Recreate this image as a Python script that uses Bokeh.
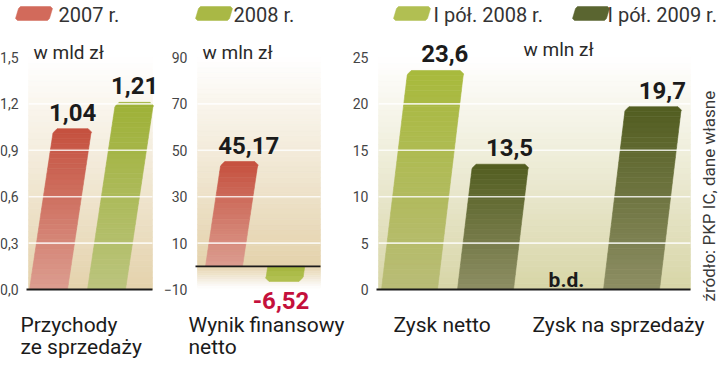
import math
from bokeh.plotting import figure
from bokeh.models import (Range1d, FixedTicker, CustomJSTickFormatter, LabelSet,
                          ColumnDataSource, LinearAxis)
from bokeh.core.properties import value
from bokeh.embed import file_html
from bokeh.resources import INLINE

# ---------------- data ----------------
legend_labels = ["2007 r.", "2008 r.", "I pół. 2008 r.", "I pół. 2009 r."]
units = ["w mld zł", "w mln zł", "w mln zł"]
cat_revenue = ["Przychody", "ze sprzedaży"]
cat_result = ["Wynik finansowy", "netto"]
cat_profit = ["Zysk netto", "Zysk na sprzedaży"]
revenue = [1.04, 1.21]          # 2007, 2008 (mld zł)
net_result = [45.17, -6.52]     # 2007, 2008 (mln zł)
profit_h1_2008 = [23.6, None]   # Zysk netto, Zysk na sprzedaży (b.d.)
profit_h1_2009 = [13.5, 19.7]
ticks_revenue = [0.0, 0.3, 0.6, 0.9, 1.2, 1.5]
ticks_result = [-10, 10, 30, 50, 70, 90]
ticks_profit = [0, 5, 10, 15, 20, 25]
missing_text = "b.d."
source_text = "źródło: PKP IC, dane własne"

# ---------------- layout / style ----------------
W, H = 720, 381
BASE_Y = 92
REGION_H = 232
FONT = "Roboto"
INK = "#1b1b1b"
RED = ("#c5503e", "#dc9d90")
GREEN = ("#9eb136", "#bbc47e")
GREEN_NEG = ("#b3c253", "#a5b63f")
LIGHT = ("#a8ba3c", "#b9bc77")
DARK = ("#525d20", "#8d8e64")
SW = ["#d26a5b", "#a9b845", "#b1bf52", "#5a6530"]
TAN, OLIVE_TAN = "#e4d2ac", "#d8d5a7"


def rgb(h):
    return tuple(int(h[i:i + 2], 16) for i in (1, 3, 5))


def lerp(c1, c2, t):
    a, b = rgb(c1), rgb(c2)
    return "#%02x%02x%02x" % tuple(int(round(a[i] + (b[i] - a[i]) * t)) for i in range(3))


def panel_range(lo, hi):
    ppu = REGION_H / (hi - lo)
    start = lo - BASE_Y / ppu
    return Range1d(start, start + H / ppu), ppu


p = figure(width=W, height=H, x_range=Range1d(0, W), y_range=Range1d(0, H),
           x_axis_location=None, y_axis_location=None, min_border=0,
           outline_line_color=None, background_fill_color="white", border_fill_color="white",
           output_backend="svg", toolbar_location=None)
p.grid.visible = False

r1, ppu1 = panel_range(0, 1.5)
r2, ppu2 = panel_range(-10, 90)
r3, ppu3 = panel_range(0, 25)
p.extra_y_ranges = {"rev": r1, "res": r2, "prof": r3}

PANELS = {"rev": (28, 152), "res": (197, 320), "prof": (378, 690)}


def add_axis(name, ticks, comma):
    ax = LinearAxis(y_range_name=name, fixed_location=PANELS[name][0],
                    ticker=FixedTicker(ticks=ticks))
    if comma:
        ax.formatter = CustomJSTickFormatter(code="return tick.toFixed(1).replace('.', ',');")
    ax.axis_line_color = None
    ax.major_tick_line_color = None
    ax.minor_tick_line_color = None
    ax.major_label_text_font = FONT
    ax.major_label_text_font_size = "14px"
    ax.major_label_text_color = "#454545"
    ax.major_label_standoff = 4
    p.add_layout(ax, "left")


def bg_bands(name, y_from, y_to, c_from, c_to, n=40):
    x0, x1 = PANELS[name]
    tops, bots, cols = [], [], []
    for i in range(n):
        a = y_from + (y_to - y_from) * i / n
        b = y_from + (y_to - y_from) * (i + 1) / n
        tops.append(max(a, b))
        bots.append(min(a, b))
        cols.append(lerp(c_from, c_to, (i + 0.5) / n))
    p.quad(left=x0, right=x1, top=tops, bottom=bots, fill_color=cols, line_color=cols,
           line_width=0.6, y_range_name=name)


def bar_shapes(xc, w, v, ppu, slant, colors, r=3.5):
    c_end, c_base = colors
    lo, hi = min(0, v), max(0, v)
    hpx = (hi - lo) * ppu
    n = max(3, int(hpx / 5))
    xs, ys, cs = [], [], []

    def left(y):
        return xc - w / 2 + slant * (y - lo) * ppu

    for i in range(n):
        y0 = lo + (hi - lo) * i / n
        y1 = lo + (hi - lo) * (i + 1) / n
        t = abs((y0 + y1) / 2) / abs(v)
        col = lerp(c_base, c_end, t)
        L0, L1 = left(y0), left(y1)
        rr = min(r, (y1 - y0) * ppu) / ppu
        if v > 0 and i == n - 1:
            px = [L0, L0 + w, L1 + w, L1 + w - r, L1 + r, L1]
            py = [y0, y0, y1 - rr, y1, y1, y1 - rr]
        elif v < 0 and i == 0:
            px = [L0 + r, L0 + w - r, L0 + w, L1 + w, L1, L0]
            py = [y0, y0, y0 + rr, y1, y1, y0 + rr]
        else:
            px = [L0, L0 + w, L1 + w, L1]
            py = [y0, y0, y1, y1]
        xs.append(px)
        ys.append(py)
        cs.append(col)
    top_x = xc + slant * hpx if v > 0 else xc
    return xs, ys, cs, top_x


def draw_bars(name, xs, ys, cs):
    p.patches(xs=xs, ys=ys, fill_color=cs, line_color=cs, line_width=0.6, y_range_name=name)


def grid_and_base(name, ticks, lo, hi):
    x0, x1 = PANELS[name]
    gt = [t for t in ticks if lo < t < hi and t != 0]
    p.segment(x0=[x0] * len(gt), x1=[x1] * len(gt), y0=gt, y1=gt, line_color="white",
              line_width=1.6, line_alpha=0.8, y_range_name=name)
    p.segment(x0=[x0 - 2], x1=[x1], y0=[0], y1=[0], line_color=INK, line_width=1.8,
              y_range_name=name)


def add_values(name, xs, ys, texts, colors, yoffs, sizes):
    src = ColumnDataSource(dict(x=xs, y=ys, text=texts, color=colors, yoff=yoffs, size=sizes))
    p.add_layout(LabelSet(x="x", y="y", text="text", source=src, text_color="color",
                          y_offset="yoff", text_align="center", text_baseline="alphabetic",
                          text_font=value(FONT), text_font_style="bold", text_font_size="size",
                          y_range_name=name))


def add_texts(texts, xs, baselines_from_top, size, color, angle=0.0):
    src = ColumnDataSource(dict(x=xs, y=[H - b for b in baselines_from_top], text=texts))
    p.add_layout(LabelSet(x="x", y="y", text="text", source=src, text_color=color,
                          text_align="left", text_baseline="alphabetic", angle=angle,
                          text_font=value(FONT), text_font_size=size))


def fmt(v, d):
    return (("%." + str(d) + "f") % v).replace(".", ",")


# ---------------- legend ----------------
sw_x = [15, 195, 393, 572]
lab_x = [58, 233, 433, 607]
sx, sy = [], []
for x0 in sw_x:
    w, s, c = 34, 3, 2
    yb, yt = H - 20, H - 6
    sx.append([x0 + c, x0 + w - c, x0 + w, x0 + w + s, x0 + w + s - c, x0 + s + c, x0 + s, x0])
    sy.append([yb, yb, yb + c, yt - c, yt, yt, yt - c, yb + c])
p.patches(xs=sx, ys=sy, fill_color=SW, line_color=SW, line_width=0.5)
add_texts(legend_labels, lab_x, [21] * 4, "20px", "#333333")

# ---------------- panel 1: Przychody ze sprzedaży ----------------
bg_bands("rev", 1.5, 0, "#ffffff", TAN)
AX, AY, AC = [], [], []
lx, ly, lt, lc, lo_, ls = [], [], [], [], [], []
for xc, v, col in zip([48, 106], revenue, [RED, GREEN]):
    xs, ys, cs, tx = bar_shapes(xc, 38, v, ppu1, 0.15, col)
    AX += xs; AY += ys; AC += cs
    lx.append(tx); ly.append(v); lt.append(fmt(v, 2)); lc.append(INK); lo_.append(8); ls.append("24px")
draw_bars("rev", AX, AY, AC)
grid_and_base("rev", ticks_revenue, 0, 1.5)
add_values("rev", lx, ly, lt, lc, lo_, ls)
add_axis("rev", ticks_revenue, True)

# ---------------- panel 2: Wynik finansowy netto ----------------
bg_bands("res", 90, 0, "#ffffff", TAN)
bg_bands("res", 0, -9.5, TAN, "#ffffff", n=12)
AX, AY, AC = [], [], []
lx, ly, lt, lc, lo_, ls = [], [], [], [], [], []
for xc, v, col in zip([223.5, 283.5], net_result, [RED, GREEN_NEG]):
    xs, ys, cs, tx = bar_shapes(xc, 37, v, ppu2, 0.15, col)
    AX += xs; AY += ys; AC += cs
    lx.append(tx + (9 if v > 0 else -3)); ly.append(v); lt.append(fmt(v, 2))
    lc.append(INK if v > 0 else "#c4103c"); lo_.append(8 if v > 0 else -28); ls.append("24px")
draw_bars("res", AX, AY, AC)
grid_and_base("res", ticks_result, -10, 90)
add_values("res", lx, ly, lt, lc, lo_, ls)
add_axis("res", ticks_result, False)

# ---------------- panel 3: Zysk ----------------
bg_bands("prof", 25, 0, "#ffffff", OLIVE_TAN)
AX, AY, AC = [], [], []
lx, ly, lt, lc, lo_, ls = [], [], [], [], [], []
for positions, vals, col in [([409, 555], profit_h1_2008, LIGHT), ([485, 631], profit_h1_2009, DARK)]:
    for xc, v in zip(positions, vals):
        if v is None:
            lx.append(xc + 11); ly.append(0); lt.append(missing_text); lc.append(INK)
            lo_.append(3); ls.append("21px")
            continue
        xs, ys, cs, tx = bar_shapes(xc, 56, v, ppu3, 0.12, col)
        AX += xs; AY += ys; AC += cs
        lx.append(tx + 9); ly.append(v); lt.append(fmt(v, 1)); lc.append(INK)
        lo_.append(8); ls.append("24px")
draw_bars("prof", AX, AY, AC)
grid_and_base("prof", ticks_profit, 0, 25)
add_values("prof", lx, ly, lt, lc, lo_, ls)
add_axis("prof", ticks_profit, False)

# ---------------- texts ----------------
add_texts(units, [33, 202, 523], [58, 58, 55], "19px", "#2a2a2a")
add_texts(cat_revenue + cat_result + cat_profit,
          [20, 20, 188, 188, 393, 532], [331, 353, 331, 353, 331, 331], "21px", INK)
add_texts([source_text], [714], [301], "17px", "#3a3a3a", angle=math.pi / 2)

open("out.html", "w").write(file_html(p, INLINE, title="PKP IC"))
